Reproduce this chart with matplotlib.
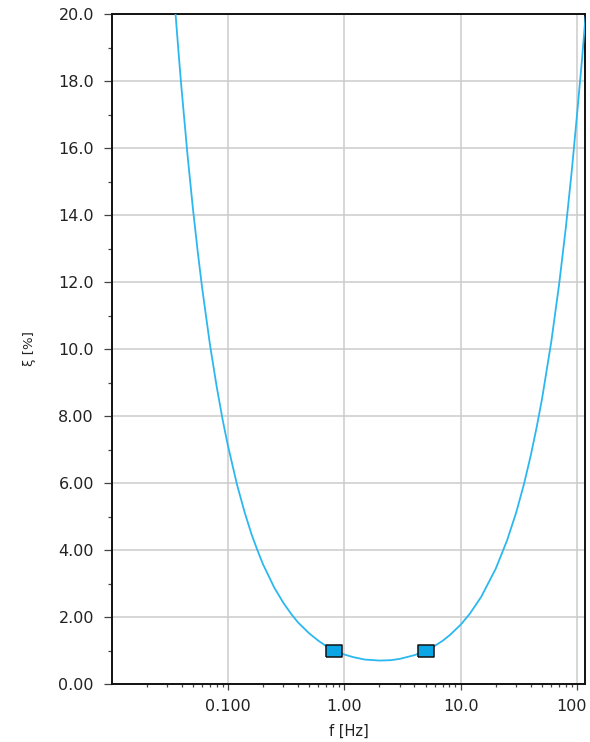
import numpy as np
import matplotlib
matplotlib.use("Agg")
import matplotlib.pyplot as plt
import matplotlib.transforms as mtransforms
from matplotlib.ticker import FixedLocator, FuncFormatter, NullFormatter

# damping ratio curve read along frequency (Hz) -> xi (%)
freq = [0.034, 0.036, 0.038, 0.04, 0.045, 0.05, 0.055, 0.06, 0.07, 0.08,
        0.09, 0.1, 0.12, 0.14, 0.16, 0.18, 0.2, 0.25, 0.3, 0.35,
        0.4, 0.5, 0.6, 0.7, 0.82, 1.0, 1.2, 1.5, 2.0, 2.5,
        3.0, 4.0, 5.0, 6.0, 7.0, 8.0, 10.0, 12.0, 15.0, 20.0,
        25.0, 30.0, 35.0, 40.0, 45.0, 50.0, 60.0, 70.0, 80.0, 90.0,
        100.0, 110.0, 118.0]
xi = [20.88, 19.73, 18.69, 17.76, 15.79, 14.21, 12.92, 11.84, 10.15, 8.89,
      7.90, 7.12, 5.94, 5.10, 4.46, 3.98, 3.58, 2.88, 2.42, 2.09,
      1.84, 1.51, 1.29, 1.13, 1.01, 0.88, 0.80, 0.73, 0.70, 0.71,
      0.75, 0.86, 0.99, 1.14, 1.29, 1.45, 1.77, 2.10, 2.60, 3.44,
      4.28, 5.12, 5.97, 6.82, 7.67, 8.51, 10.21, 11.91, 13.61, 15.31,
      17.01, 18.60, 19.90]

# the two target frequencies
pts_f = [0.82, 5.0]
pts_xi = [1.0, 1.0]

x_major = [0.1, 1.0, 10.0, 100.0]
x_labels = ["0.100", "1.00", "10.0", "100"]
y_major = [0, 2, 4, 6, 8, 10, 12, 14, 16, 18, 20]

W, H = 590, 742
fig = plt.figure(figsize=(W / 100, H / 100), dpi=100)
ax = fig.add_axes([112 / W, 1 - 684 / H, (585 - 112) / W, (684 - 14) / H])

ax.plot(freq, xi, color="#2bb8f0", lw=1.3, zorder=3, solid_joinstyle="round")

# squares come out a bit wider than tall
rect = [(-1.5, -1), (1.5, -1), (1.5, 1), (-1.5, 1), (-1.5, -1)]
ax.plot(pts_f, pts_xi, ls="none", marker=rect, ms=12, mfc="#0aa6e6",
        mec="#111111", mew=1.1, zorder=4)

ax.set_xscale("log")
ax.set_xlim(0.0101, 117)
ax.set_ylim(0, 20)

ax.xaxis.set_major_locator(FixedLocator(x_major))
ax.xaxis.set_major_formatter(FuncFormatter(lambda v, p: x_labels[x_major.index(v)] if v in x_major else ""))
minor_x = [m * 10.0 ** d for d in range(-2, 3) for m in range(2, 10)]
ax.xaxis.set_minor_locator(FixedLocator(minor_x))
ax.xaxis.set_minor_formatter(NullFormatter())

ax.yaxis.set_major_locator(FixedLocator(y_major))
ax.yaxis.set_major_formatter(FuncFormatter(lambda v, p: "%.2f" % v if v < 10 else "%.1f" % v))
ax.yaxis.set_minor_locator(FixedLocator(list(range(1, 20, 2))))

ax.grid(True, which="major", color="#cccccc", lw=1.1)
ax.set_axisbelow(True)

for s in ax.spines.values():
    s.set_color("#111111")
    s.set_linewidth(1.4)

ax.tick_params(axis="y", which="major", length=6, width=0.9, color="#444444",
               pad=7, labelsize=11.5, labelcolor="#222222")
ax.tick_params(axis="y", which="minor", length=3, width=0.9, color="#444444")
ax.tick_params(axis="x", which="major", length=4.5, width=0.9, color="#444444",
               pad=6, labelsize=11.5, labelcolor="#222222")
ax.tick_params(axis="x", which="minor", length=2.5, width=0.9, color="#444444")

# keep the last x label inside the figure edge
last = ax.xaxis.get_major_ticks()[-1].label1
last.set_transform(last.get_transform() + mtransforms.ScaledTranslation(-4 / 72, 0, fig.dpi_scale_trans))

ax.set_xlabel("f [Hz]", fontsize=10.5, color="#222222", labelpad=7)
ax.set_ylabel("ξ [%]", fontsize=9.5, color="#222222", labelpad=16)

fig.savefig("out.png", dpi=100)
